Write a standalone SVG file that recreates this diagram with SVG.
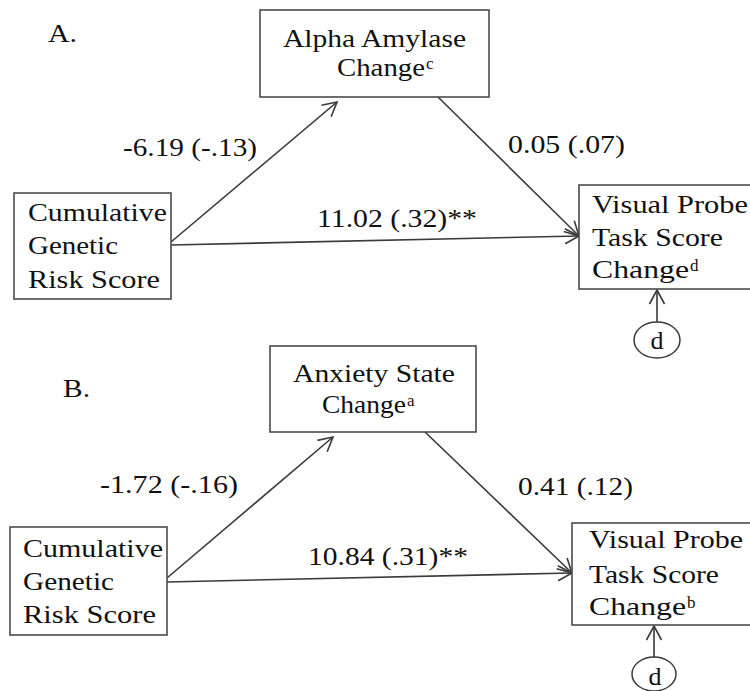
<svg xmlns="http://www.w3.org/2000/svg" width="750" height="691" viewBox="0 0 750 691">
<defs>
<style>
.t{font-family:"Liberation Serif","Times New Roman",serif;font-size:26px;fill:#111}
.sup{font-family:"Liberation Serif","Times New Roman",serif;font-size:17px;fill:#111}
.box{fill:#fff;stroke:#4a4a4a;stroke-width:1.6}
.edge{fill:none;stroke:#3a3a3a;stroke-width:1.6}
.ell{fill:#fff;stroke:#3a3a3a;stroke-width:1.5}
</style>
<marker id="arr" markerUnits="userSpaceOnUse" markerWidth="20" markerHeight="20" viewBox="-16 -10 20 20" refX="0" refY="0" orient="auto">
<path d="M-14,-7.5 L0,0 L-14,7.5" fill="none" stroke="#3a3a3a" stroke-width="1.6"/>
</marker>
</defs>
<rect width="750" height="691" fill="#fff"/>

<g id="connectors">
<line class="edge" x1="171" y1="242" x2="337" y2="102" marker-end="url(#arr)"/>
<line class="edge" x1="171" y1="245" x2="579" y2="236" marker-end="url(#arr)"/>
<line class="edge" x1="438" y1="97" x2="579" y2="236" marker-end="url(#arr)"/>
<line class="edge" x1="657" y1="322" x2="657" y2="290" marker-end="url(#arr)"/>
<line class="edge" x1="167" y1="578" x2="333" y2="437" marker-end="url(#arr)"/>
<line class="edge" x1="167" y1="582" x2="572" y2="573" marker-end="url(#arr)"/>
<line class="edge" x1="425" y1="432" x2="572" y2="573" marker-end="url(#arr)"/>
<line class="edge" x1="654" y1="657" x2="654" y2="626" marker-end="url(#arr)"/>
</g>

<g id="labels">
<text class="t" x="48" y="42" textLength="29" lengthAdjust="spacingAndGlyphs">A.</text>
<text class="t" x="123" y="156" textLength="134" lengthAdjust="spacingAndGlyphs">-6.19 (-.13)</text>
<text class="t" x="317" y="227" textLength="160" lengthAdjust="spacingAndGlyphs">11.02 (.32)**</text>
<text class="t" x="508" y="153" textLength="117" lengthAdjust="spacingAndGlyphs">0.05 (.07)</text>
<text class="t" x="63" y="397" textLength="27" lengthAdjust="spacingAndGlyphs">B.</text>
<text class="t" x="100" y="493" textLength="138" lengthAdjust="spacingAndGlyphs">-1.72 (-.16)</text>
<text class="t" x="308" y="565" textLength="160" lengthAdjust="spacingAndGlyphs">10.84 (.31)**</text>
<text class="t" x="518" y="495" textLength="115" lengthAdjust="spacingAndGlyphs">0.41 (.12)</text>
</g>

<g id="nodeA-alpha">
<rect class="box" x="260" y="10" width="229" height="87"/>
<text class="t" x="283" y="47" textLength="183" lengthAdjust="spacingAndGlyphs">Alpha Amylase</text>
<text class="t" x="337" y="76" textLength="88" lengthAdjust="spacingAndGlyphs">Change</text>
<text class="sup" x="426" y="69">c</text>
</g>

<g id="nodeA-genetic">
<rect class="box" x="14" y="193" width="157" height="106"/>
<text class="t" x="28" y="221" textLength="139" lengthAdjust="spacingAndGlyphs">Cumulative</text>
<text class="t" x="28" y="254" textLength="90" lengthAdjust="spacingAndGlyphs">Genetic</text>
<text class="t" x="28" y="288" textLength="132" lengthAdjust="spacingAndGlyphs">Risk Score</text>
</g>

<g id="nodeA-visual">
<rect class="box" x="579" y="185" width="180" height="104"/>
<text class="t" x="592" y="213" textLength="156" lengthAdjust="spacingAndGlyphs">Visual Probe</text>
<text class="t" x="592" y="246" textLength="131" lengthAdjust="spacingAndGlyphs">Task Score</text>
<text class="t" x="592" y="278" textLength="97" lengthAdjust="spacingAndGlyphs">Change</text>
<text class="sup" x="690" y="271">d</text>
</g>

<g id="nodeA-d">
<ellipse class="ell" cx="657" cy="340" rx="23" ry="18"/>
<text class="t" x="657" y="349" text-anchor="middle">d</text>
</g>

<g id="nodeB-anxiety">
<rect class="box" x="270" y="346" width="206" height="86"/>
<text class="t" x="293" y="382" textLength="162" lengthAdjust="spacingAndGlyphs">Anxiety State</text>
<text class="t" x="322" y="413" textLength="84" lengthAdjust="spacingAndGlyphs">Change</text>
<text class="sup" x="407" y="406">a</text>
</g>

<g id="nodeB-genetic">
<rect class="box" x="10" y="527" width="157" height="108"/>
<text class="t" x="23" y="557" textLength="140" lengthAdjust="spacingAndGlyphs">Cumulative</text>
<text class="t" x="23" y="590" textLength="91" lengthAdjust="spacingAndGlyphs">Genetic</text>
<text class="t" x="23" y="623" textLength="133" lengthAdjust="spacingAndGlyphs">Risk Score</text>
</g>

<g id="nodeB-visual">
<rect class="box" x="572" y="523" width="190" height="102"/>
<text class="t" x="589" y="548" textLength="154" lengthAdjust="spacingAndGlyphs">Visual Probe</text>
<text class="t" x="589" y="583" textLength="130" lengthAdjust="spacingAndGlyphs">Task Score</text>
<text class="t" x="589" y="615" textLength="97" lengthAdjust="spacingAndGlyphs">Change</text>
<text class="sup" x="687" y="608">b</text>
</g>

<g id="nodeB-d">
<ellipse class="ell" cx="654" cy="674" rx="22" ry="17"/>
<text class="t" x="655" y="685" text-anchor="middle">d</text>
</g>
</svg>
